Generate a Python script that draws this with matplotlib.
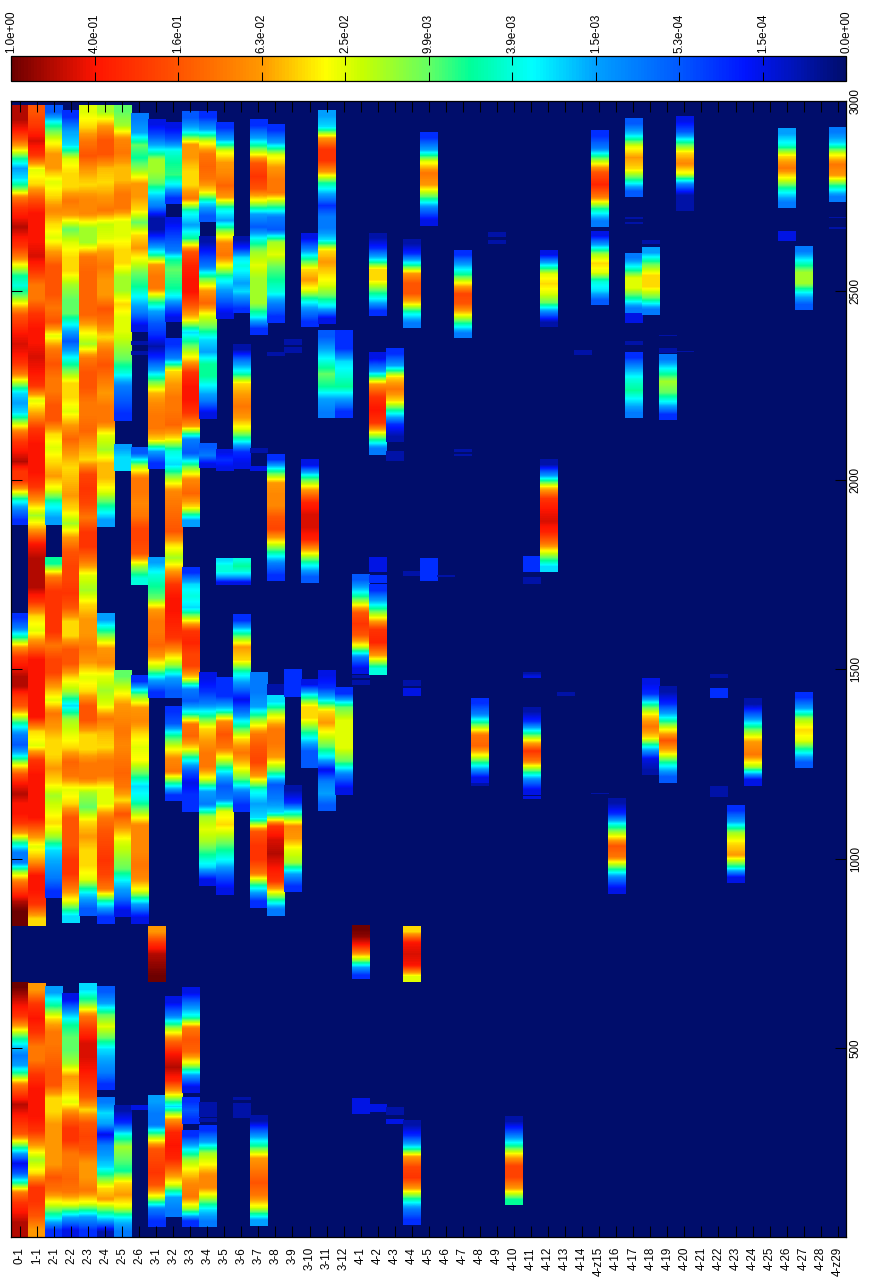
import numpy as np
import matplotlib
matplotlib.use("Agg")
import matplotlib.pyplot as plt
from matplotlib.colors import LinearSegmentedColormap, Normalize
from matplotlib.cm import ScalarMappable

plt.rcParams['font.family'] = ['Liberation Sans', 'DejaVu Sans']

column_labels = ['0-1', '1-1', '2-1', '2-2', '2-3', '2-4', '2-5', '2-6',
                 '3-1', '3-2', '3-3', '3-4', '3-5', '3-6', '3-7', '3-8', '3-9', '3-10', '3-11', '3-12',
                 '4-1', '4-2', '4-3', '4-4', '4-5', '4-6', '4-7', '4-8', '4-9', '4-10', '4-11', '4-12',
                 '4-13', '4-14', '4-z15', '4-16', '4-17', '4-18', '4-19', '4-20', '4-21', '4-22', '4-23',
                 '4-24', '4-25', '4-26', '4-27', '4-28', '4-z29']
scale_labels = ['1.0e+00', '4.0e-01', '1.6e-01', '6.3e-02', '2.5e-02', '9.9e-03',
                '3.9e-03', '1.5e-03', '5.3e-04', '1.5e-04', '0.0e+00']
y_ticks = [500, 1000, 1500, 2000, 2500, 3000]

# Each run: (y at top, y at bottom, colour-scale steps read top to bottom; 0 = 1.0e+00, 20 = 0.0e+00)
c_0_1 = [(2989, 1880, [1,1,2,4,7,11,14,13,10,5,3,2,1,2,3,5,8,11,12,10,7,4,3,2,1.5,2,3,5,9,13,14,13,9,5,3,2,1,3,3,7,12,15,17]),
         (1648, 823, [17,15,11,6,3,2,1,1,3,4,8,12,15,16,13,8,4,2,1,2,2,3,6,11,15,15,9,5,3,1,0,0]),
         (675, 2, [0,1,2,3,6,10,13,15,14,10,5,3,1,2,3,4,9,14,18,16,11,5,3,2,1,1])]
c_1_1 = [(2989, 823, [4,3,1.5,3,8,7,4,2,2,2,1.5,3,5,5,3,2,2,1.5,2,3,8,6,3,2,2,2,3,6,9,6,2,1,1,1,3,7,8,5,2,2,2,2,2,7,8,3,2,2,2,2,5,8,6,2,2,3,7]),
         (671, 2, [6,3,2,3,5,5,3,2,2,2,3,6,9,7,3,3,4,6])]
c_2_1 = [(2989, 1880, [16,11,8,6,6,8,7,5.5,7,8,6,4,4,4,5,4,8,5,4,5,5,4,4,7,8,7,6,8,12,14]),
         (1796, 896, [11,5,3,3,3,3,5,3.5,3.5,6,8,5,6,7,7,6,7,9,8,7,9,13,14,15,17]),
         (663, 2, [14,11,7,5,5,4.5,4,4,7,7,6,6,6,6,4,5,8,12,17])]
c_2_2 = [(2976, 831, [17,14,13,8,7,7,5,6,10,8,7,7,9,10,10,13,16,13,10,7,7,8,6,4.5,6,7,6.5,6,7,9,6,4,3.5,3.5,3,4,7,7,4,4,7,9,13,9,8,7,4.5,5,8,7,4,4,4,3,3,5,8,13]),
         (645, 2, [18,14,11,10,10,9,6,6.5,8,5,3,3,5,5,4.5,5,8,14,18])]
c_2_3 = [(2989, 849, [8,7,5,4,6,7,5.5,5.5,9,9,5,4.5,4.5,4.5,4.5,7,9,5,4,4,5,5,4.5,6,7,3.5,3,3.5,5,3,3,5,8,9,7,6,6,5,6,8,7,4,4,7,7,5,5,9,10,7,6,7,7,8,13,16]),
         (671, 2, [13,10,5,3,1.5,1.5,2,3,4,7,4,3.5,4,6,6,5,8,14,17])]
c_2_4 = [(2989, 1875, [9,6,4,4,6.5,7,6,5,8.5,8,6,5,6,6,4,5,7,5,4,5,6,5,5,8,9,6.5,6.5,8,11,14]),
         (1648, 827, [14,10,6,5.5,8,9,8,5,6.5,7,5,5,8,8,5,4,3.5,3,3.5,5,12,17]),
         (663, 389, [16,14,10,8,10,13,14,15,17]),
         (370, 2, [15,13,14,18,15,14,13,10,7,6,10,14,19])]
c_2_5 = [(2989, 2156, [10,9,5.5,5,6.5,6.5,5,5,8,8,7,7,9,9,7,8,8,9,10,12,15,16,17]),
         (2094, 2023, [14,13,13]),
         (1498, 846, [10,8,6,5.5,5,5.5,5,4.5,5,7,4,6,8,9,10,13,15,18]),
         (349, 2, [19,17,12,9,10,11,7,6,8,13,15])]
c_2_6 = [(2968, 2390, [15,14,10,11,9,6,6,7,10,7,6,8,10,11,13,15,18]),
         (2366, 2356, [19]), (2337, 2329, [19]),
         (2084, 1722, [16,9,5,5,5.5,5,3.5,3.5,4,9,12]),
         (1484, 827, [17,10,6,5.5,7,8,7.5,10,13,12,9,5.5,5.5,5.5,5,5.5,8,14,18]),
         (347, 336, [18])]
c_3_1 = [(2950, 2028, [18,16,13,9,9,10,13,15,19,19,16,12,6,5,5,10,14,16,17,19,17,14,10,6.5,5.5,5,5,7,14,17]),
         (1796, 1425, [14,12,11,10,6,5,5,4.5,6,9,14,17]),
         (822, 675, [6,3,1,0.5,0]),
         (373, 27, [14,15,15,9,4,3.5,3,4,8,15,17])]
c_3_2 = [(2944, 2728, [18,16,12,11,10.5,13,17]),
         (2694, 2417, [18,17,16,15,11,10,10.5,11,13,16,18]),
         (2374, 1425, [17,15,7,6,5,5,4.5,7,12,13,9,5.5,5,4.5,4,7,9,6,3,2,2,2.5,3,6,9,14,16]),
         (1403, 1153, [17,16,11,8,5.5,5,11,17]),
         (637, 54, [18,15,9,4.5,2,1,2.5,7,13,6,2.5,2,2.5,5,8,14,15])]
c_3_3 = [(2971, 1875, [16,13,6,6,7,7,5,12,14,11,4,2.5,2,2,4,7,13,10,7,3,2,2,3,6,15,16,10,5.5,4.5,7,14]),
         (1770, 1124, [17,13,12,13,8,3,2.5,3.5,3.5,7,15,16,12,5,4.5,7,12,16,18,17,17]),
         (661, 382, [18,15,12,5,4,4.5,8,14,18]),
         (368, 299, [17,16,17]),
         (283, 27, [17,13,9,7,5.5,5,9,17])]
c_3_4 = [(2971, 2680, [17,14,8,5,4.5,5,7,13,16]),
         (2641, 2160, [19,17,15,10,6,4.5,8,10,13,14,11,11,13,15,18]),
         (2097, 2031, [16,15,18]),
         (1492, 927, [18,17,15,11,7,6,5,5,8,14,15,9,8,9,11,13,18]),
         (355, 317, [19]), (313, 305, [19]),
         (294, 27, [17,14,9,7.5,5.5,5.5,9,13,15])]
c_3_5 = [(2942, 2424, [17,14,8,6,5.5,4.5,6,12,14,9,5.5,5,8,12,14,16,18]),
         (2081, 2023, [18,17,18]),
         (1793, 1722, [13,12,12,14,18]),
         (1479, 904, [17,17,13,5.5,4,5,8.5,13,16,15,8,7,9,11,13,16,18])]
c_3_6 = [(2641, 2440, [19,17,13,12,13,14,13,15,17]),
         (2356, 2028, [19,15,12,7,6,5,6,8,12,17,18]),
         (1793, 1722, [12,11,12,14,18]),
         (1645, 1123, [17,11,6,7,12,15,18,15,11,7,5,7,10,15,17]),
         (370, 363, [19]), (352, 325, [19]), (323, 315, [19])]
c_3_7 = [(2950, 2382, [17,14,9,4,3,4,8,14,16,12,9,8,9,9,9,12,17]),
         (2081, 2070, [19]), (2034, 2023, [18]),
         (1492, 869, [15,15,14,9,5,4,3.5,6,12,14,13,4,3,3,5,12,17]),
         (323, 30, [19,15,11,6,5,4,5,8,14])]
c_3_8 = [(2939, 2415, [17,14,8,6,5,5,10,15,16,9,8,10,11,12,15,17]),
         (2335, 2327, [19]),
         (2068, 1733, [17,11,6,5.5,5.5,4,3.5,7,11,15,17]),
         (1461, 1432, [19]),
         (1432, 849, [13,8,5,5,6,10,16,15,13,3,1.5,1,2,3,9,15])]
c_3_9 = [(2371, 2356, [19]), (2350, 2335, [19]), (1498, 1426, [17,17,17]),
         (1194, 912, [19,17,11,5.5,6,8,9,14,17])]
c_3_10 = [(2651, 2404, [18,15,11,7,6,8,12,15,17]),
          (2055, 1728, [18,11,6,2.5,1.5,1.5,2.5,7,12,16]),
          (1474, 1240, [18,12,7,7,10,13,16,16])]
c_3_11 = [(2976, 2411, [14,13,6,3,3,6,11,14,17,15,15,13,7,6,7,8,10,13,18]),
          (2395, 2163, [16,14,12,10,11,14,15]),
          (1498, 1126, [18,17,13,7,6,8,10,13,18,15,14,16])]
c_3_12 = [(2395, 2163, [17,17,13,12,11,14,17]),
          (1453, 1168, [17,10,8,8,8,10,15,18])]
c_4_1 = [(1751, 1487, [16,13,9,4,3,4,8,15,18]), (1482, 1476, [19]), (1469, 1458, [19]),
         (822, 682, [0,0.5,2,5,9,14,17]), (365, 325, [18])]
c_4_2 = [(2649, 2432, [19,17,13,7,7,10,13,17]),
         (2335, 2065, [18,14,6,3,2,3,9,15]),
         (1796, 1757, [18]), (1748, 1727, [17]),
         (1722, 1484, [17,13,8,3,2.5,6,12]),
         (352, 331, [18])]
c_4_3 = [(2348, 2100, [17,14,7,5,7,12,17,19]), (2073, 2049, [19]), (342, 323, [19]), (312, 299, [18])]
c_4_4 = [(2633, 2400, [19,17,12,6,4,4,7,12,15]),
         (1759, 1746, [19]), (1469, 1455, [19]), (1450, 1429, [18]),
         (822, 675, [7,2,1.5,2,8]),
         (307, 32, [19,17,13,6,3.5,3,6,11,15,17])]
c_4_5 = [(2918, 2672, [17,14,8,5,6,10,15,18]), (1793, 1733, [17,17])]
c_4_6 = [(1747, 1744, [19])]
c_4_7 = [(2604, 2374, [17,14,11,7,3.5,4,7,11,15]), (2079, 2073, [19]), (2066, 2063, [19])]
c_4_8 = [(1421, 1199, [17,15,10,5,4.5,8,13,18]), (1197, 1191, [19])]
c_4_9 = [(2654, 2641, [19]), (2630, 2622, [19])]
c_4_10 = [(320, 85, [19,16,12,7,3.5,3.5,6,11])]
c_4_11 = [(1796, 1756, [17]), (1743, 1725, [19]), (1490, 1476, [19,18]),
          (1400, 1168, [19,17,12,7,3,5,10,15,18]), (1163, 1157, [18])]
c_4_12 = [(2606, 2404, [18,13,8,7,8,10,15,19]), (2055, 1757, [19,14,7,3,2,1.5,2.5,5,9,13])]
c_4_13 = [(1437, 1429, [19])]
c_4_14 = [(2342, 2339, [19]), (2335, 2329, [19])]
c_4_z15 = [(2923, 2668, [17,15,9,4,2.5,5,11,15]), (2654, 2461, [18,14,9,7,8,12,13,16]), (1173, 1171, [19])]
c_4_16 = [(1160, 907, [19,17,12,8,4,5,10,15,18])]
c_4_17 = [(2955, 2747, [16,13,8,6,7,11,16]), (2694, 2689, [19]), (2678, 2675, [19]),
          (2598, 2440, [15,12,8,8,11,15]), (2440, 2414, [18]), (2366, 2356, [19]),
          (2337, 2163, [17,14,12,11,13,15])]
c_4_18 = [(2630, 2622, [19]), (2614, 2435, [14,10,7,7,10,15]), (1476, 1220, [18,17,11,7,5,7,13,18,19])]
c_4_19 = [(2382, 2380, [19]), (2348, 2335, [19]), (2332, 2158, [15,12,9,10,13,17]),
          (1453, 1199, [19,17,13,8,4,7,12,16])]
c_4_20 = [(2960, 2710, [18,16,11,7,5.5,8,15,19,19]), (2339, 2337, [19])]
c_4_21 = []
c_4_22 = [(1484, 1476, [19]), (1450, 1424, [17]), (1189, 1162, [19])]
c_4_23 = [(1139, 935, [17,14,9,7,6,11,18])]
c_4_24 = [(1421, 1191, [19,15,10,6,5,9,18])]
c_4_25 = []
c_4_26 = [(2926, 2717, [14,12,7,5,8,12,15]), (2654, 2630, [18])]
c_4_27 = [(2617, 2448, [15,12,9,9,13,16]), (1440, 1240, [17,14,9,7,8,12,16])]
c_4_28 = []
c_4_z29 = [(2931, 2734, [15,13,8,5,6,11,15]), (2694, 2692, [19]), (2666, 2663, [19])]

columns = [c_0_1, c_1_1, c_2_1, c_2_2, c_2_3, c_2_4, c_2_5, c_2_6,
           c_3_1, c_3_2, c_3_3, c_3_4, c_3_5, c_3_6, c_3_7, c_3_8, c_3_9, c_3_10, c_3_11, c_3_12,
           c_4_1, c_4_2, c_4_3, c_4_4, c_4_5, c_4_6, c_4_7, c_4_8, c_4_9, c_4_10, c_4_11, c_4_12,
           c_4_13, c_4_14, c_4_z15, c_4_16, c_4_17, c_4_18, c_4_19, c_4_20, c_4_21, c_4_22, c_4_23,
           c_4_24, c_4_25, c_4_26, c_4_27, c_4_28, c_4_z29]

cmap = LinearSegmentedColormap.from_list('dark_jet', [
    (0.00, (0.43, 0.00, 0.00)), (0.10, (1.00, 0.08, 0.00)), (0.20, (1.00, 0.33, 0.00)),
    (0.30, (1.00, 0.60, 0.00)), (0.376, (1.00, 1.00, 0.00)), (0.42, (0.78, 1.00, 0.00)),
    (0.50, (0.39, 1.00, 0.39)), (0.55, (0.00, 1.00, 0.60)), (0.625, (0.00, 1.00, 1.00)),
    (0.70, (0.00, 0.63, 1.00)), (0.80, (0.00, 0.35, 1.00)), (0.88, (0.00, 0.08, 1.00)),
    (0.94, (0.00, 0.08, 0.72)), (1.00, (0.00, 0.05, 0.42))], N=256)
norm = Normalize(0, 20)

W, H = 870, 1280
fig = plt.figure(figsize=(W / 100, H / 100), dpi=100, facecolor='white')
L, R = 11.3, 846.3
ax = fig.add_axes([L / W, 1 - 1237.3 / H, (R - L) / W, (1237.3 - 101.3) / H], facecolor=cmap(1.0))
cax = fig.add_axes([L / W, 1 - 81.3 / H, (R - L) / W, 25.3 / H])

for i, runs in enumerate(columns):
    for top, bottom, vals in runs:
        ax.imshow(np.array(vals, dtype=float)[:, None], cmap=cmap, norm=norm, aspect='auto', origin='upper',
                  extent=[i, i + 1, bottom, top], interpolation='bilinear', interpolation_stage='data')

ax.set_xlim(0, len(columns))
ax.set_ylim(0, 3000)
ax.set_xticks(np.arange(len(columns)) + 0.5, column_labels, rotation=90, fontsize=8.4, va='top')
ax.set_yticks(y_ticks, [str(v) for v in y_ticks], rotation=90, va='center', fontsize=8.4)
ax.tick_params(axis='x', which='both', direction='in', top=True, bottom=True, length=8, width=0.75, pad=7)
ax.tick_params(axis='y', which='both', direction='in', left=True, right=True, labelleft=False, labelright=True,
               length=8, width=0.75, pad=2.5)
for s in ax.spines.values():
    s.set_linewidth(0.9)

cb = fig.colorbar(ScalarMappable(norm=norm, cmap=cmap), cax=cax, orientation='horizontal')
cb.set_ticks(np.arange(0, 21, 2), labels=scale_labels)
cax.xaxis.set_ticks_position('both')
cax.tick_params(axis='x', which='both', direction='in', top=True, bottom=True, labelbottom=False, labeltop=True,
                length=6.5, width=0.75, pad=2, rotation=90, labelsize=8.4, color='black')
cb.outline.set_linewidth(0.9)

fig.savefig('out.png', dpi=100)
